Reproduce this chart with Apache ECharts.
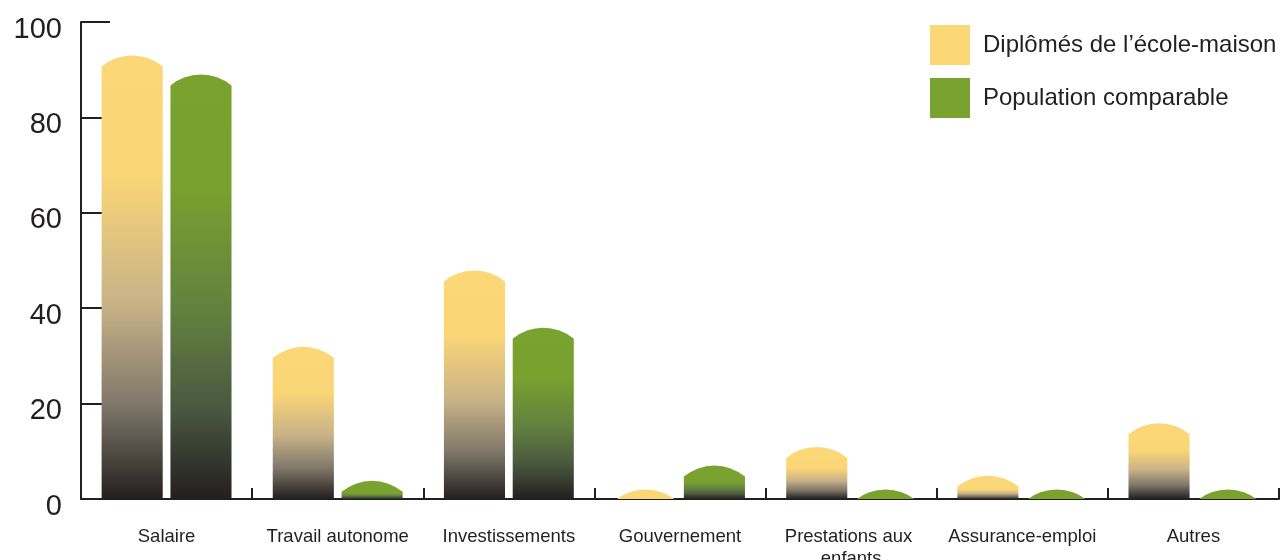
<!DOCTYPE html>
<html lang="fr">
<head>
    <meta charset="UTF-8">
    <title>Sources de revenus</title>
    <style>
        html, body {
            margin: 0;
            padding: 0;
            background: #ffffff;
        }
        #chart {
            width: 1280px;
            height: 560px;
        }
    </style>
    <script src="https://cdn.jsdelivr.net/npm/echarts@6/dist/echarts.min.js"></script>
</head>
<body>
    <div id="chart"></div>
    <script>
        // données (valeur = sommet de la barre arrondie)
        const categories = ['Salaire', 'Travail autonome', 'Investissements', 'Gouvernement',
            'Prestations aux enfants', 'Assurance-emploi', 'Autres'];
        const homeschool = [93.0, 31.9, 47.9, 2.0, 10.9, 4.9, 15.9];
        const comparable = [89.0, 3.8, 35.9, 7.0, 2.0, 2.0, 2.0];
        const yTicks = [0, 20, 40, 60, 80, 100];

        const ink = '#231f20';
        const yellowStops = ['#fcd777', '#fad576', '#c8b288', '#80786a', ink];
        const greenStops = ['#7aa22f', '#78a02f', '#62803f', '#4a5840', ink];

        // barre avec un sommet en arc de cercle
        function domeBar(side, stops) {
            return function (params, api) {
                const idx = api.value(0);
                const top = api.coord([idx, api.value(1)]);
                const base = api.coord([idx, 0]);
                const band = api.size([1, 0])[0];
                const w = band * 0.357;
                const cx = top[0] + side * band * 0.201;
                const x0 = cx - w / 2;
                const x1 = cx + w / 2;
                const h = w * 0.18;
                const shoulder = top[1] + h;
                const r = (w * w / 4 + h * h) / (2 * h);
                const bottom = Math.max(base[1], shoulder);

                let fill = stops[0];
                if (shoulder < base[1] - 1) {
                    fill = {
                        type: 'linear', x: 0, y: shoulder, x2: 0, y2: base[1], global: true,
                        colorStops: [
                            { offset: 0, color: stops[0] },
                            { offset: 0.25, color: stops[1] },
                            { offset: 0.55, color: stops[2] },
                            { offset: 0.78, color: stops[3] },
                            { offset: 1, color: stops[4] }
                        ]
                    };
                }
                return {
                    type: 'path',
                    shape: {
                        pathData: `M${x0},${bottom} L${x0},${shoulder} A${r},${r} 0 0 1 ${x1},${shoulder} L${x1},${bottom} Z`
                    },
                    style: { fill: fill, stroke: null }
                };
            };
        }

        const chart = echarts.init(document.getElementById('chart'));
        chart.setOption({
            animation: false,
            textStyle: { fontFamily: "'Liberation Sans', Arial, Helvetica, sans-serif" },
            grid: { left: 81, right: 1, top: 22, bottom: 61, outerBoundsMode: 'none', containLabel: false },
            legend: {
                orient: 'vertical',
                left: 930,
                top: 25,
                padding: 0,
                itemWidth: 40,
                itemHeight: 40,
                itemGap: 13,
                textStyle: { fontSize: 24, color: ink, padding: [0, 0, 0, 8] },
                data: [
                    { name: 'Diplômés de l’école-maison', icon: 'rect', itemStyle: { color: yellowStops[0] } },
                    { name: 'Population comparable', icon: 'rect', itemStyle: { color: greenStops[0] } }
                ]
            },
            xAxis: {
                type: 'category',
                data: categories,
                axisLine: { lineStyle: { color: ink, width: 2 } },
                axisTick: { show: true, inside: true, length: 11, interval: 0, lineStyle: { color: ink, width: 2 } },
                axisLabel: {
                    interval: 0,
                    fontSize: 18.5,
                    lineHeight: 22,
                    color: ink,
                    margin: 27,
                    width: 168,
                    overflow: 'break'
                }
            },
            yAxis: {
                type: 'value',
                min: yTicks[0],
                max: yTicks[yTicks.length - 1],
                interval: yTicks[1] - yTicks[0],
                axisLine: { show: true, lineStyle: { color: ink, width: 2 } },
                axisTick: { show: true, inside: true, length: 29, lineStyle: { color: ink, width: 2 } },
                splitLine: { show: false },
                axisLabel: { fontSize: 29, color: ink, margin: 19, verticalAlign: 'top', lineHeight: 15 }
            },
            series: [
                {
                    name: 'Diplômés de l’école-maison',
                    type: 'custom',
                    clip: true,
                    itemStyle: { color: yellowStops[0] },
                    renderItem: domeBar(-1, yellowStops),
                    encode: { x: 0, y: 1 },
                    data: homeschool.map((v, i) => [i, v])
                },
                {
                    name: 'Population comparable',
                    type: 'custom',
                    clip: true,
                    itemStyle: { color: greenStops[0] },
                    renderItem: domeBar(1, greenStops),
                    encode: { x: 0, y: 1 },
                    data: comparable.map((v, i) => [i, v])
                }
            ]
        });
    </script>
</body>
</html>
